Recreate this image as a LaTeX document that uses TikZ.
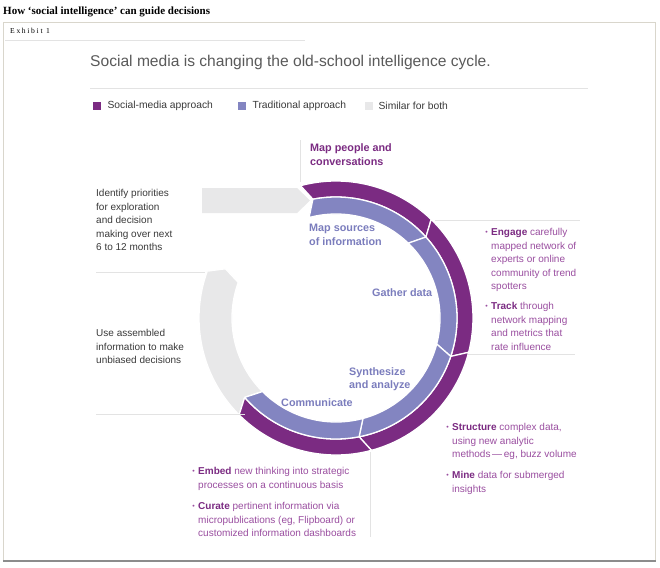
\documentclass[tikz,border=0pt]{standalone}
\usepackage{fontspec}
\setmainfont{Liberation Sans}
\newfontfamily\hedfont{Liberation Serif}
\newfontfamily\exhfont[LetterSpace=22]{Liberation Serif}
\usepackage{tikz}
\usetikzlibrary{positioning}
\definecolor{smpurple}{HTML}{7B2B82}
\definecolor{tradlav}{HTML}{8385C1}
\definecolor{bothgrey}{HTML}{E8E8E9}
\definecolor{bodypurple}{HTML}{9A4EA0}
\definecolor{lablav}{HTML}{7B7DBD}
\definecolor{txtgrey}{HTML}{3A3A3A}
\definecolor{titlegrey}{HTML}{5A5A5A}
\definecolor{rulegrey}{HTML}{E3E3E3}
\definecolor{framebeige}{HTML}{D9D6CC}
\definecolor{botline}{HTML}{8C8C8C}
\tikzset{
  sep/.style={draw=rulegrey, line width=0.8pt},
  seg/.style={draw=white, line width=1.3pt, line join=bevel},
  body/.style={anchor=north west, inner sep=0pt, align=left, text=txtgrey, font=\fontsize{10}{13.6}\selectfont},
  bullets/.style={body, text=bodypurple},
  cyclab/.style={anchor=north west, inner sep=0pt, align=left, font=\bfseries\fontsize{10.8}{13.8}\selectfont},
  key/.style={minimum size=8pt, inner sep=0pt, anchor=north west},
  keylab/.style={inner sep=0pt, text=txtgrey, font=\fontsize{10.3}{12}\selectfont}
}
\def\rO{137}\def\rB{121}\def\rI{104}\def\dA{4}
\newcommand{\RingSeg}[2]{% tail angle, head angle (clockwise)
  \fill[smpurple, seg] (#1:\rO) arc[start angle=#1, end angle=#2, radius=\rO]
    -- (#2-\dA:\rB) arc[start angle=#2-\dA, end angle=#1-\dA, radius=\rB] -- cycle;
  \fill[tradlav, seg] (#1-\dA:\rB) arc[start angle=#1-\dA, end angle=#2-\dA, radius=\rB]
    -- (#2:\rI) arc[start angle=#2, end angle=#1, radius=\rI] -- cycle;
}
\newcommand{\kw}[1]{{\bfseries\color{smpurple}#1}}
\newcommand{\bul}{\llap{{\fontsize{7}{7}\selectfont\raisebox{0.6pt}{•}}\hspace{3.5pt}}}

\begin{document}
\begin{tikzpicture}[x=1pt, y=-1pt]
  \useasboundingbox (0,0) rectangle (660,567);
  \fill[white] (0,0) rectangle (660,567);

  % frame and header
  \node[anchor=west, inner sep=0pt] (hed) at (3,12) {\hedfont\bfseries\fontsize{11}{12}\selectfont How ‘social intelligence’ can guide decisions};
  \draw[framebeige, line width=0.8pt] (3,22) rectangle (655,561);
  \draw[botline, line width=1.6pt] (3,561) -- (656,561);
  \node[anchor=west, inner sep=0pt] (exh) at (10,30.5) {\exhfont\fontsize{7.6}{8}\selectfont Exhibit 1};
  \draw[sep] (5,40) -- (305,40);

  \node[anchor=west, inner sep=0pt, text=titlegrey, font=\fontsize{15.6}{18}\selectfont] (title) at (90,62.5) {Social media is changing the old-school intelligence cycle.};
  \draw[sep] (90,88) -- (588,88);

  % legend
  \node[key, fill=smpurple] (ksm) at (93,102) {};
  \node[keylab, right=6pt of ksm] (lsm) {Social-media approach};
  \node[key, fill=tradlav] (ktr) at (238,102) {};
  \node[keylab, right=6pt of ktr] (ltr) {Traditional approach};
  \node[key, fill=bothgrey] (kbo) at (365,102) {};
  \node[keylab, right=5pt of kbo] (lbo) {Similar for both};

  % entry arrow
  \fill[bothgrey] (202,188) -- (297,188) -- (310,200.5) -- (297,213) -- (202,213) -- cycle;

  % the cycle
  \begin{scope}[shift={(336,318)}, y=1pt]
    \fill[bothgrey, seg] (225:\rO) arc[start angle=225, end angle=160, radius=\rO]
      -- (156:\rB) -- (160:\rI) arc[start angle=160, end angle=225, radius=\rI] -- (221:\rB) -- cycle;
    \RingSeg{105}{46}
    \RingSeg{46}{-14.5}
    \RingSeg{-14.5}{-75}
    \RingSeg{-75}{-135}
  \end{scope}

  % separators
  \draw[sep] (300,140) -- (300,182);
  \draw[sep] (96,272) -- (205,272);
  \draw[sep] (96,414) -- (245,414);
  \draw[sep] (435,220) -- (580,220);
  \draw[sep] (468,354) -- (575,354);
  \draw[sep] (370,452) -- (370,537);

  % step labels
  \node[cyclab, text=smpurple] (mappeople) at (310,143.5) {Map people and\\conversations};
  \node[cyclab, text=lablav] (mapsrc) at (309,224) {Map sources\\of information};
  \node[cyclab, text=lablav] (gather) at (372,288) {Gather data};
  \node[cyclab, text=lablav] (synth) at (349,367) {Synthesize\\and analyze};
  \node[cyclab, text=lablav] (comm) at (281,398.5) {Communicate};

  % left notes
  \node[body] (identify) at (96,189) {Identify priorities\\for exploration\\and decision\\making over next\\6 to 12 months};
  \node[body] (useinfo) at (96,329) {Use assembled\\information to make\\unbiased decisions};

  % social-media notes
  \node[bullets] (engage) at (491,228) {\bul\kw{Engage} carefully\\mapped network of\\experts or online\\community of trend\\spotters};
  \node[bullets] (track) at (491,302) {\bul\kw{Track} through\\network mapping\\and metrics that\\rate influence};
  \node[bullets] (structure) at (452,423) {\bul\kw{Structure} complex data,\\using new analytic\\methods\,—\,eg, buzz volume};
  \node[bullets] (mine) at (452,471) {\bul\kw{Mine} data for submerged\\insights};
  \node[bullets] (embed) at (198,467) {\bul\kw{Embed} new thinking into strategic\\processes on a continuous basis};
  \node[bullets] (curate) at (198,502) {\bul\kw{Curate} pertinent information via\\micropublications (eg, Flipboard) or\\customized information dashboards};
\end{tikzpicture}
\end{document}
